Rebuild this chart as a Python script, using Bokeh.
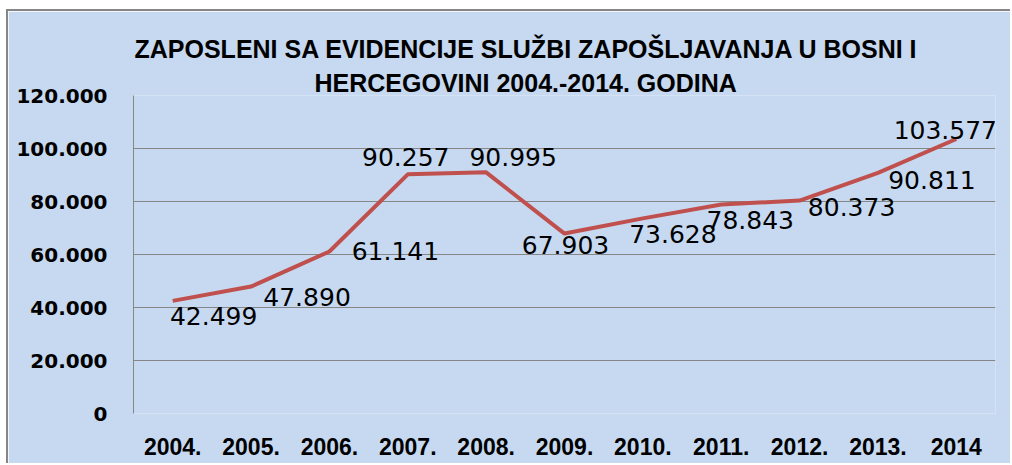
from bokeh.plotting import figure
from bokeh.models import (ColumnDataSource, FactorRange, Range1d, FixedTicker, Title)
from bokeh.core.properties import value
from bokeh.embed import file_html
from bokeh.resources import INLINE

# ---- data ----
years = ["2004.", "2005.", "2006.", "2007.", "2008.", "2009.", "2010.",
         "2011.", "2012.", "2013.", "2014"]
employed = [42499, 47890, 61141, 90257, 90995, 67903, 73628, 78843, 80373,
            90811, 103577]
value_labels = ["42.499", "47.890", "61.141", "90.257", "90.995", "67.903",
                "73.628", "78.843", "80.373", "90.811", "103.577"]
y_ticks = [0, 20000, 40000, 60000, 80000, 100000, 120000]
y_tick_labels = ["0", "20.000", "40.000", "60.000", "80.000", "100.000", "120.000"]
title_lines = ["ZAPOSLENI SA EVIDENCIJE SLUŽBI ZAPOŠLJAVANJA U BOSNI I",
               "HERCEGOVINI 2004.-2014. GODINA"]

# label placement (screen pixels, styling only)
label_dx = [41, 56, 66, -2, 27, 1, 30, 29, 52, 54, -11]
label_dy = [15, 10, 0, -17, -15, 11, 16, 15, 6, 7, -9]

BLUE = "#C6D9F0"
GRAY = "#868686"
RED = "#C0504D"
SANS = "Liberation Sans"

src = ColumnDataSource(dict(x=years, y=employed, t=value_labels,
                            dx=label_dx, dy=label_dy))

p = figure(width=1004, height=454, output_backend="svg", toolbar_location=None,
           x_range=FactorRange(*years, range_padding=0),
           y_range=Range1d(0, 120000),
           min_border_left=125, min_border_right=17,
           min_border_top=84, min_border_bottom=52)
p.styles = {"margin-left": "6px", "margin-top": "9px",
            "border-left": "2px solid #868686", "border-top": "2px solid #868686"}
p.border_fill_color = BLUE
p.background_fill_color = BLUE
p.outline_line_color = None
p.title.visible = False

p.line(x="x", y="y", source=src, line_color=RED, line_width=4)
p.text(x="x", y="y", text="t", source=src, x_offset="dx", y_offset="dy",
       text_align="center", text_baseline="middle",
       text_font=value("DejaVu Sans"), text_font_size="25px",
       text_color="black")

# grid
p.xgrid.grid_line_color = None
p.ygrid.grid_line_color = GRAY
p.ygrid.grid_line_width = 1

# y axis
p.yaxis.ticker = FixedTicker(ticks=y_ticks)
p.yaxis.major_label_overrides = {t: l for t, l in zip(y_ticks, y_tick_labels)}
p.yaxis.axis_line_color = GRAY
p.yaxis.axis_line_width = 1
p.yaxis.major_tick_line_color = None
p.yaxis.minor_tick_line_color = None
p.yaxis.major_tick_out = 0
p.yaxis.major_label_standoff = 26
p.yaxis.major_label_text_font = "DejaVu Sans"
p.yaxis.major_label_text_font_style = "bold"
p.yaxis.major_label_text_font_size = "20px"
p.yaxis.major_label_text_color = "black"

# x axis
p.xaxis.axis_line_color = None
p.xaxis.major_tick_line_color = None
p.xaxis.minor_tick_line_color = None
p.xaxis.major_tick_out = 0
p.xaxis.major_label_standoff = 24
p.xaxis.major_label_text_font = SANS
p.xaxis.major_label_text_font_style = "bold"
p.xaxis.major_label_text_font_size = "23px"
p.xaxis.major_label_text_color = "black"

# title (two lines, second line closest to the plot)
t2 = Title(text=title_lines[1], align="left", offset=181, standoff=-2,
           text_font=SANS, text_font_style="bold", text_font_size="25px",
           text_color="black")
t1 = Title(text=title_lines[0], align="left", offset=1, standoff=10,
           text_font=SANS, text_font_style="bold", text_font_size="25px",
           text_color="black")
p.add_layout(t2, "above")
p.add_layout(t1, "above")

open("out.html", "w").write(file_html(p, INLINE))
